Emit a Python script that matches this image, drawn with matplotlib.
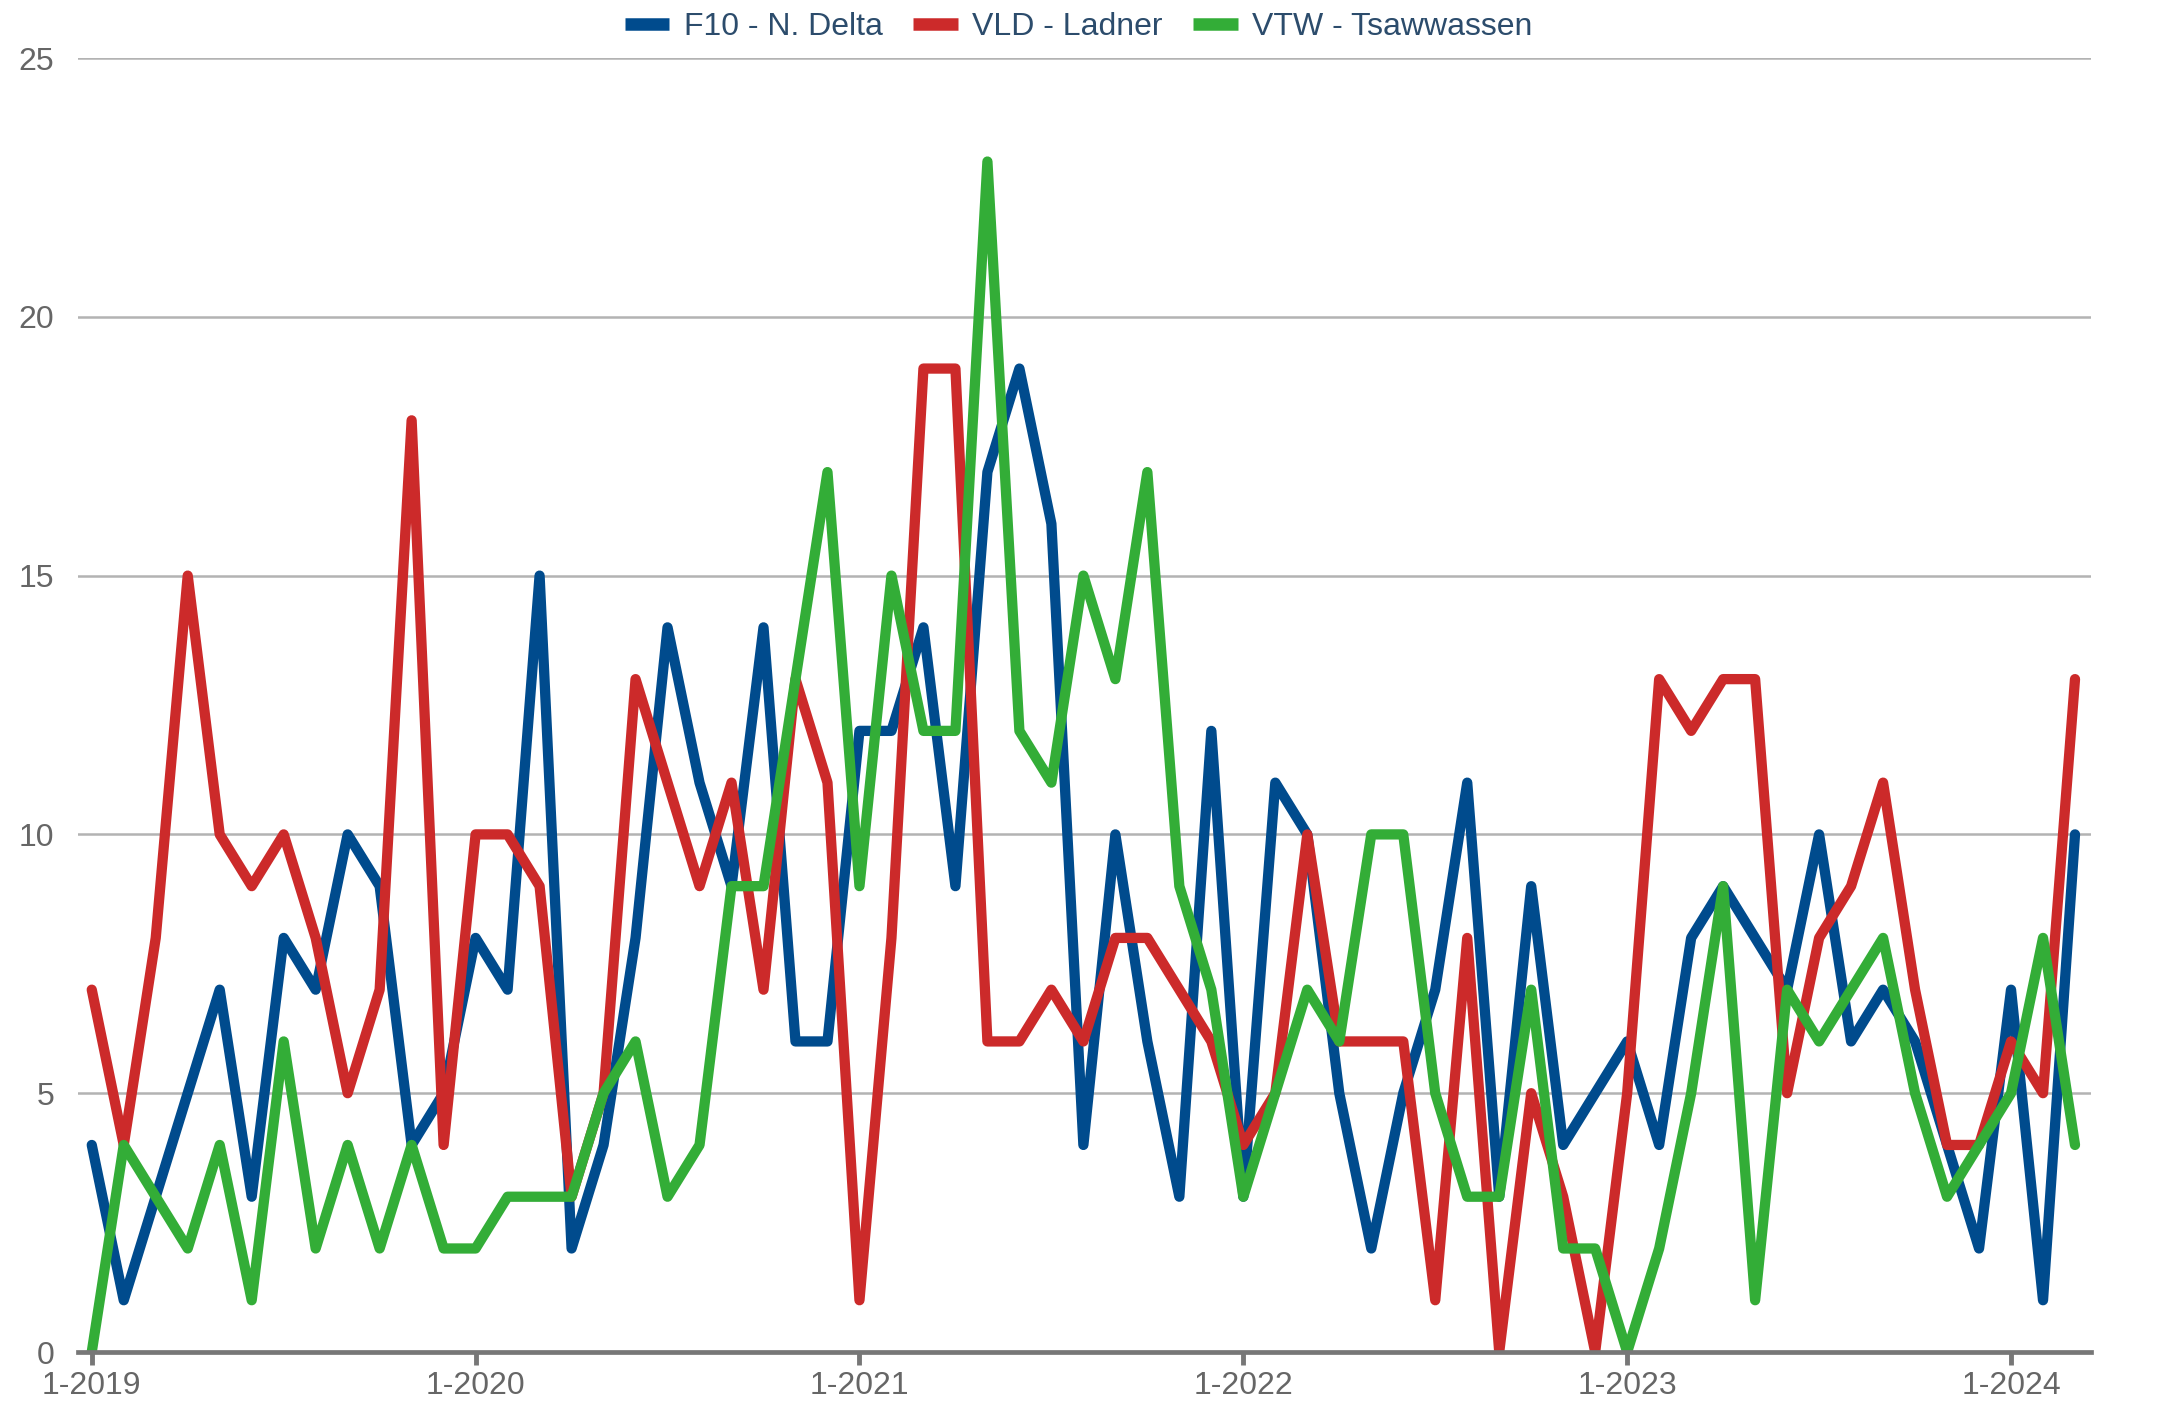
import matplotlib
matplotlib.use("Agg")
import matplotlib.pyplot as plt
from matplotlib.lines import Line2D

# Monthly counts, Jan 2019 .. Mar 2024
months = list(range(63))
f10_delta = [4, 1, 3, 5, 7, 3, 8, 7, 10, 9, 4, 5,
             8, 7, 15, 2, 4, 8, 14, 11, 9, 14, 6, 6,
             12, 12, 14, 9, 17, 19, 16, 4, 10, 6, 3, 12,
             3, 11, 10, 5, 2, 5, 7, 11, 3, 9, 4, 5,
             6, 4, 8, 9, 8, 7, 10, 6, 7, 6, 4, 2,
             7, 1, 10]
vld_ladner = [7, 4, 8, 15, 10, 9, 10, 8, 5, 7, 18, 4,
              10, 10, 9, 3, 5, 13, 11, 9, 11, 7, 13, 11,
              1, 8, 19, 19, 6, 6, 7, 6, 8, 8, 7, 6,
              4, 5, 10, 6, 6, 6, 1, 8, 0, 5, 3, 0,
              5, 13, 12, 13, 13, 5, 8, 9, 11, 7, 4, 4,
              6, 5, 13]
vtw_tsawwassen = [0, 4, 3, 2, 4, 1, 6, 2, 4, 2, 4, 2,
                  2, 3, 3, 3, 5, 6, 3, 4, 9, 9, 13, 17,
                  9, 15, 12, 12, 23, 12, 11, 15, 13, 17, 9, 7,
                  3, 5, 7, 6, 10, 10, 5, 3, 3, 7, 2, 2,
                  0, 2, 5, 9, 1, 7, 6, 7, 8, 5, 3, 4,
                  5, 8, 4]

series_names = ["F10 - N. Delta", "VLD - Ladner", "VTW - Tsawwassen"]
series_colors = ["#004b8d", "#cc2a2a", "#33ad37"]
year_ticks = [0, 12, 24, 36, 48, 60]
year_labels = ["1-2019", "1-2020", "1-2021", "1-2022", "1-2023", "1-2024"]
y_ticks = [0, 5, 10, 15, 20, 25]

plt.rcParams["font.family"] = ["Liberation Sans", "DejaVu Sans"]

fig = plt.figure(figsize=(21.57, 14.13), dpi=100)
ax = fig.add_axes([78 / 2157, 1 - 1352 / 1413, (2091 - 78) / 2157, (1352 - 58) / 1413])

for vals, name, col in zip([f10_delta, vld_ladner, vtw_tsawwassen], series_names, series_colors):
    ax.plot(months, vals, color=col, lw=7.4, solid_joinstyle="round",
            solid_capstyle="round", label=name, zorder=3)

ax.set_xlim(-0.43, 62.5)
ax.set_ylim(0, 25)
ax.set_yticks(y_ticks)
ax.set_xticks(year_ticks)
ax.set_xticklabels(year_labels)
ax.grid(axis="y", color="#b3b3b3", lw=1.8, zorder=1)
ax.grid(axis="x", visible=False)

for s in ["top", "right", "left"]:
    ax.spines[s].set_visible(False)
ax.spines["bottom"].set_color("#777777")
ax.spines["bottom"].set_linewidth(3.4)
ax.spines["bottom"].set_zorder(4)

ax.tick_params(axis="y", length=0, pad=17, labelsize=23, labelcolor="#666666")
ax.tick_params(axis="x", length=9, width=3.5, color="#777777", pad=5,
               labelsize=23, labelcolor="#666666")

handles = [Line2D([], [], color=c, lw=9, solid_capstyle="butt") for c in series_colors]
leg = fig.legend(handles, series_names, loc="upper center", bbox_to_anchor=(0.5, 1.012),
                 ncol=3, frameon=False, fontsize=23, handlelength=1.4,
                 handletextpad=0.45, columnspacing=0.95)
for t in leg.get_texts():
    t.set_color("#2c4c6c")

fig.savefig("out.png", dpi=100)
